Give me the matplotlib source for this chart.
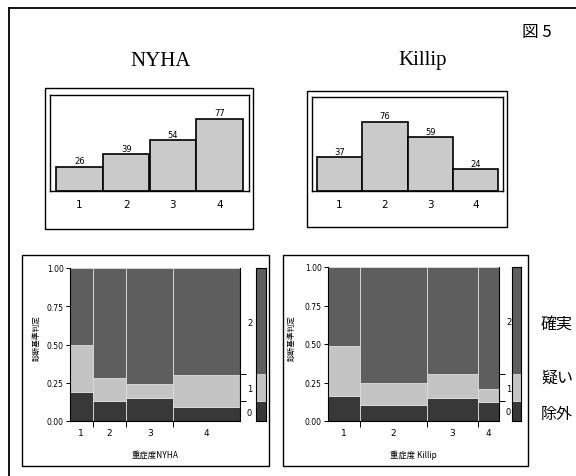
import matplotlib
matplotlib.use('Agg')
import matplotlib.pyplot as plt
from matplotlib.patches import Rectangle
from matplotlib.lines import Line2D
import numpy as np

plt.rcParams['font.family'] = ['DejaVu Sans', 'Noto Sans CJK JP']

# counts per class (top bar charts)
classes = ['1', '2', '3', '4']
nyha_n = [26, 39, 54, 77]
killip_n = [37, 76, 59, 24]

# diagnosis by class: 0 = 除外, 1 = 疑い, 2 = 確実
nyha_excl = [5, 5, 8, 7]
nyha_susp = [8, 6, 5, 16]
nyha_cert = [13, 28, 41, 54]
killip_excl = [6, 8, 9, 3]
killip_susp = [12, 11, 9, 2]
killip_cert = [19, 57, 41, 19]

diag_labels = ['0', '1', '2']
diag_names = ['除外', '疑い', '確実']

W, H = 576, 477
fig = plt.figure(figsize=(W / 100, H / 100), dpi=100)
fig.patch.set_facecolor('white')

def px_axes(x0, y0, x1, y1):
    return fig.add_axes([x0 / W, 1 - y1 / H, (x1 - x0) / W, (y1 - y0) / H])

def px_box(x0, y0, x1, y1, lw=1.0):
    fig.add_artist(Rectangle((x0 / W, 1 - y1 / H), (x1 - x0) / W, (y1 - y0) / H,
                             transform=fig.transFigure, fill=False, lw=lw, ec='black'))

def px_text(x, y, s, **kw):
    fig.text(x / W, 1 - y / H, s, ha='center', va='center', **kw)

c_cert = '#5e5e5e'
c_susp = '#c4c4c4'
c_excl = '#383838'
c_bar = '#cacaca'

# outer frame of the scanned page
fig.add_artist(Line2D([9 / W, 9 / W], [0, 1 - 9 / H], transform=fig.transFigure, color='black', lw=1.3))
fig.add_artist(Line2D([9 / W, 1], [1 - 9 / H, 1 - 9 / H], transform=fig.transFigure, color='black', lw=1.3))

px_text(537, 33, '図 5', fontsize=12, family=['Noto Sans CJK JP'])
px_text(161, 61, 'NYHA', fontsize=15, family=['Liberation Serif'])
px_text(423, 61, 'Killip', fontsize=15, family=['Liberation Serif'])

def bar_panel(box, inner, counts, xlim, ylim):
    px_box(*box, lw=1.0)
    ax = px_axes(*inner)
    x = np.arange(1, len(counts) + 1)
    ax.bar(x, counts, width=1.0, color=c_bar, edgecolor='black', linewidth=1.2)
    for xi, v in zip(x, counts):
        ax.text(xi, v + 1.5, str(v), ha='center', va='bottom', fontsize=6)
    ax.set_xlim(*xlim)
    ax.set_ylim(*ylim)
    ax.set_xticks(x)
    ax.set_xticklabels(classes, fontsize=7.5)
    ax.tick_params(axis='x', length=0, pad=6)
    ax.set_yticks([])
    for s in ax.spines.values():
        s.set_linewidth(1.0)

bar_panel((45, 89, 253, 230), (50, 96, 249, 192), nyha_n, (0.37, 4.63), (0, 102))
bar_panel((307, 92, 507, 228), (312, 98, 503, 192), killip_n, (0.39, 4.61), (0, 103))

def mosaic_panel(box, plot, legend, excl, susp, cert, xlabel, ylabel_x):
    px_box(*box, lw=1.0)
    ax = px_axes(*plot)
    excl = np.array(excl, float)
    susp = np.array(susp, float)
    cert = np.array(cert, float)
    n = excl + susp + cert
    widths = n / n.sum()
    lefts = np.concatenate([[0], np.cumsum(widths)[:-1]])
    f0 = excl / n
    f1 = susp / n
    f2 = cert / n
    ax.bar(lefts, f0, widths, 0, align='edge', color=c_excl, edgecolor='#dddddd', linewidth=0.6)
    ax.bar(lefts, f1, widths, f0, align='edge', color=c_susp, edgecolor='#dddddd', linewidth=0.6)
    ax.bar(lefts, f2, widths, f0 + f1, align='edge', color=c_cert, edgecolor='#dddddd', linewidth=0.6)
    ax.set_xlim(0, 1)
    ax.set_ylim(0, 1)
    ax.set_yticks([0, 0.25, 0.5, 0.75, 1.0])
    ax.set_yticklabels(['0.00', '0.25', '0.50', '0.75', '1.00'], fontsize=5.5)
    ax.tick_params(axis='y', length=3, width=0.7, pad=1.5)
    ax.set_xticks(lefts + widths / 2)
    ax.set_xticklabels(classes, fontsize=6.5)
    ax.set_xticks(np.cumsum(widths)[:-1], minor=True)
    ax.tick_params(axis='x', which='major', length=0, pad=5)
    ax.tick_params(axis='x', which='minor', length=4, width=0.7)
    for s in ['top', 'right']:
        ax.spines[s].set_visible(False)
    ax.spines['left'].set_linewidth(0.8)
    ax.spines['bottom'].set_linewidth(0.8)
    ax.set_xlabel(xlabel, fontsize=6, family=['Noto Sans CJK JP', 'DejaVu Sans'], labelpad=9)
    fig.text(ylabel_x / W, 1 - 338 / H, '診断基準判定', rotation=90, ha='center', va='center',
             fontsize=5.5, family=['Noto Sans CJK JP'])

    # marginal distribution on the right
    tot = np.array([excl.sum(), susp.sum(), cert.sum()]) / n.sum()
    cum = np.cumsum(tot)
    ax2 = ax.twinx()
    ax2.set_ylim(0, 1)
    ax2.set_yticks(cum - tot / 2)
    ax2.set_yticklabels(diag_labels, fontsize=6)
    ax2.set_yticks(cum[:-1], minor=True)
    ax2.tick_params(axis='y', which='major', length=0, pad=5)
    ax2.tick_params(axis='y', which='minor', length=4, width=0.7)
    for s in ['top', 'left', 'bottom']:
        ax2.spines[s].set_visible(False)
    ax2.spines['right'].set_linewidth(0.8)

    axl = px_axes(*legend)
    axl.bar([0], [tot[0]], 1, 0, color=c_excl, edgecolor='#dddddd', linewidth=0.5)
    axl.bar([0], [tot[1]], 1, tot[0], color=c_susp, edgecolor='#dddddd', linewidth=0.5)
    axl.bar([0], [tot[2]], 1, tot[0] + tot[1], color=c_cert, edgecolor='#dddddd', linewidth=0.5)
    axl.set_xlim(-0.5, 0.5)
    axl.set_ylim(0, 1)
    axl.set_xticks([])
    axl.set_yticks([])
    for s in axl.spines.values():
        s.set_linewidth(0.8)

mosaic_panel((22, 256, 269, 467), (70, 269, 240, 422), (256, 269, 266, 422),
             nyha_excl, nyha_susp, nyha_cert, '重症度NYHA', 37)
mosaic_panel((283, 256, 528, 467), (328, 268, 499, 422), (512, 268, 521, 422),
             killip_excl, killip_susp, killip_cert, '重症度 Killip', 292)

for name, y in zip(diag_names, [415, 378, 324]):
    px_text(557, y, name, fontsize=11.5, family=['Noto Sans CJK JP'])

fig.savefig('out.png', dpi=100, facecolor='white')
